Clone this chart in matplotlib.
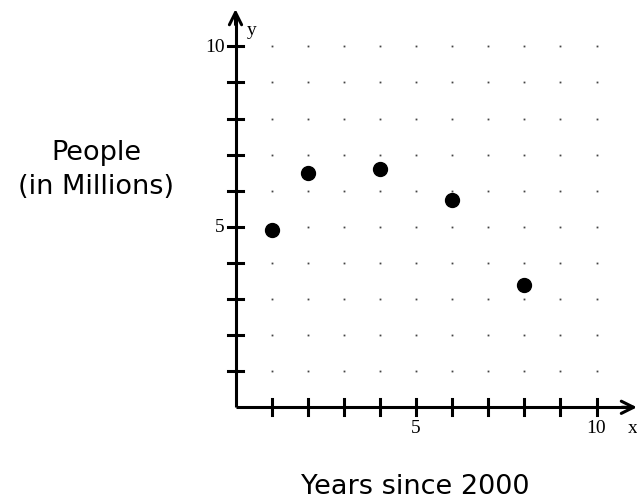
import matplotlib.pyplot as plt

# data
years = [1, 2, 4, 6, 8]
people = [4.9, 6.5, 6.6, 5.75, 3.4]

x_ticks = list(range(1, 11))
y_ticks = list(range(1, 11))
x_tick_labels = {5: '5', 10: '10'}
y_tick_labels = {5: '5', 10: '10'}

fig = plt.figure(figsize=(6.37, 5.01), dpi=100)
ax = fig.add_axes([0, 0, 1, 1])
ax.axis('off')

# pixel mapping: origin at (235.5, 407.3), 36.1 px per unit
px = 36.1
ax.set_xlim(-235.5 / px, (637 - 235.5) / px)
ax.set_ylim((407.3 - 501) / px, 407.3 / px)

# dotted grid
for gx in x_ticks:
    for gy in y_ticks:
        ax.plot(gx, gy, marker='s', ms=1.3, color='#444444', mec='none')

# axes with arrows
lw = 2.2
ax.plot([0, 11.0], [0, 0], color='black', lw=lw, solid_capstyle='butt')
ax.plot([0, 0], [0, 10.9], color='black', lw=lw, solid_capstyle='butt')
ax.annotate('', xy=(11.12, 0), xytext=(10.7, 0),
            arrowprops=dict(arrowstyle='->', lw=lw, color='black',
                            mutation_scale=22, shrinkA=0, shrinkB=0))
ax.annotate('', xy=(0, 11.03), xytext=(0, 10.6),
            arrowprops=dict(arrowstyle='->', lw=lw, color='black',
                            mutation_scale=22, shrinkA=0, shrinkB=0))

# ticks crossing the axes
t = 0.22
for tx in x_ticks:
    ax.plot([tx, tx], [-t, t], color='black', lw=lw)
for ty in y_ticks:
    ax.plot([-t, t], [ty, ty], color='black', lw=lw)

serif = 'Liberation Serif'
fs = 14
for tx, lab in x_tick_labels.items():
    ax.text(tx, -0.58, lab, ha='center', va='center', fontsize=fs, family=serif)
for ty, lab in y_tick_labels.items():
    ax.text(-0.3, ty - 0.02, lab, ha='right', va='center', fontsize=fs, family=serif)
ax.text(11.0, -0.58, 'x', ha='center', va='center', fontsize=fs, family=serif)
ax.text(0.45, 10.45, 'y', ha='center', va='center', fontsize=fs, family=serif)

# data points
ax.plot(years, people, 'o', color='black', ms=10, ls='none')

# axis titles
fig.text(96 / 637, 1 - 170 / 501, 'People\n(in Millions)', ha='center', va='center',
         fontsize=19.5, family='DejaVu Sans', linespacing=1.45)
fig.text(415 / 637, 1 - 487 / 501, 'Years since 2000', ha='center', va='center',
         fontsize=19.5, family='DejaVu Sans')

fig.savefig('out.png', dpi=100)
